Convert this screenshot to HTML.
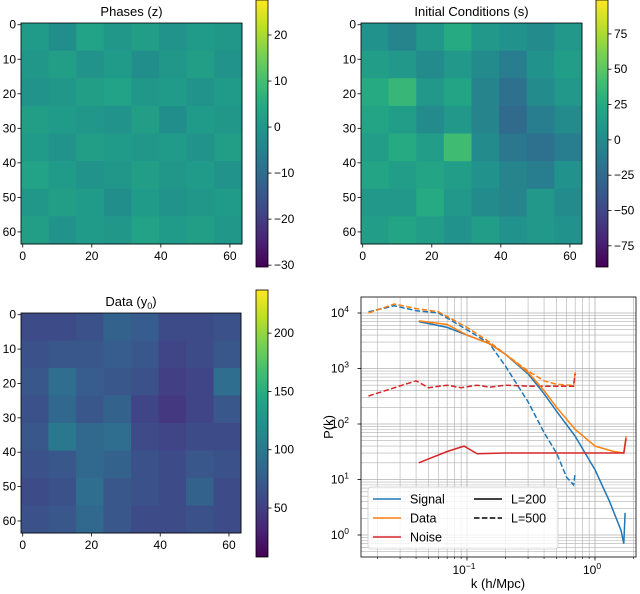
<!DOCTYPE html>
<html><head><meta charset="utf-8"><style>
body{margin:0;background:#fff;}
svg{display:block;font-family:"Liberation Sans","DejaVu Sans",sans-serif;}
</style></head><body>
<svg id="fig" width="640" height="594" viewBox="0 0 640 594" xmlns="http://www.w3.org/2000/svg">
<defs>
<linearGradient id="vir" x1="0" y1="1" x2="0" y2="0">
<stop offset="0" stop-color="#440154"/><stop offset="0.1" stop-color="#482475"/><stop offset="0.2" stop-color="#414487"/><stop offset="0.3" stop-color="#355f8d"/><stop offset="0.4" stop-color="#2a788e"/><stop offset="0.5" stop-color="#21918c"/><stop offset="0.6" stop-color="#22a884"/><stop offset="0.7" stop-color="#44bf70"/><stop offset="0.8" stop-color="#7ad151"/><stop offset="0.9" stop-color="#bddf26"/><stop offset="1" stop-color="#fde725"/>
</linearGradient>
<clipPath id="pclip"><rect x="361" y="297" width="275" height="260"/></clipPath>
</defs>
</svg>
<script>
const phasesGrid=[
[1,-2,3,0,2,-1,1,0],[0,2,-1,1,-2,0,2,-1],[-1,0,2,3,0,1,-1,1],[2,1,0,-1,2,-2,1,0],
[1,-1,2,1,0,1,-1,2],[3,1,-1,0,2,0,1,-1],[0,2,1,-2,1,-1,0,1],[2,-1,1,0,3,1,2,0]];
const initGrid=[
[5,-5,10,25,10,5,0,10],[15,10,0,10,0,-10,5,15],[25,35,10,20,-5,-20,0,10],[20,15,0,10,-5,-25,-10,0],
[15,25,15,40,0,-15,-20,-10],[20,15,20,15,5,-5,-10,5],[10,10,25,10,0,-5,10,0],[15,20,15,5,15,5,10,5]];
const dataGrid=[
[60,60,65,80,75,60,60,65],[65,70,70,75,70,55,60,70],[70,90,75,70,65,50,55,90],[65,85,70,80,55,45,55,70],
[70,100,85,90,60,55,60,60],[65,70,85,80,65,60,70,65],[60,65,90,70,65,60,80,60],[65,70,85,70,60,60,65,60]];
const heatTicks=[0,20,40,60];
const cbTicks1=[20,10,0,-10,-20,-30];
const cbTicks2=[75,50,25,0,-25,-50,-75];
const cbTicks3=[200,150,100,50];
const kSig500=[0.017,0.027,0.04,0.06,0.1,0.15,0.2,0.3,0.4,0.5,0.6,0.68,0.7];
const pSig500=[1.05e4,1.35e4,1.1e4,1.0e4,5e3,2.8e3,1.1e3,2.5e2,7e1,3e1,1.1e1,8,13];
const kDat500=[0.017,0.027,0.04,0.06,0.1,0.15,0.2,0.3,0.4,0.5,0.65,0.68,0.7];
const pDat500=[1.0e4,1.45e4,1.2e4,1.05e4,5.5e3,3e3,1.8e3,9e2,6e2,5.2e2,5e2,5e2,8.5e2];
const kNoi500=[0.017,0.04,0.05,0.07,0.09,0.12,0.15,0.2,0.3,0.5,0.68,0.7];
const pNoi500=[3.2e2,6e2,4.5e2,5e2,4.5e2,5e2,4.6e2,5e2,4.8e2,4.8e2,4.8e2,8e2];
const kSig200=[0.042,0.07,0.1,0.15,0.2,0.3,0.4,0.5,0.7,1.0,1.3,1.6,1.68,1.72];
const pSig200=[7e3,5.5e3,4e3,2.8e3,1.8e3,8e2,3.5e2,1.7e2,6e1,1.5e1,4,1.2,0.7,2.5];
const kDat200=[0.042,0.07,0.1,0.15,0.2,0.3,0.4,0.5,0.7,1.0,1.4,1.68,1.75];
const pDat200=[7.2e3,6.2e3,4e3,2.8e3,1.8e3,8.5e2,4e2,2e2,8e1,4e1,3.2e1,3e1,6e1];
const kNoi200=[0.042,0.07,0.095,0.12,0.2,0.5,1.0,1.68,1.75];
const pNoi200=[2e1,3.2e1,4e1,2.9e1,3e1,3e1,3e1,3e1,5.5e1];

const NS="http://www.w3.org/2000/svg";
const svg=document.getElementById('fig');
function el(tag,attrs,parent){const e=document.createElementNS(NS,tag);for(const k in attrs)e.setAttribute(k,attrs[k]);(parent||svg).appendChild(e);return e;}
const VIR=["#440154","#482475","#414487","#355f8d","#2a788e","#21918c","#22a884","#44bf70","#7ad151","#bddf26","#fde725"];
function hex(h){return [1,3,5].map(i=>parseInt(h.substr(i,2),16));}
function viridis(t){t=Math.max(0,Math.min(1,t));const f=t*10,i=Math.min(9,Math.floor(f)),r=f-i;const a=hex(VIR[i]),b=hex(VIR[i+1]);return `rgb(${a.map((v,j)=>Math.round(v+(b[j]-v)*r)).join(',')})`;}
function txt(x,y,s,anchor,size,parent){const t=el('text',{x:x,y:y,'text-anchor':anchor||'middle','font-size':size||12,fill:'#000'},parent);t.textContent=s;return t;}

function heatmap(name,grid,px,py,sz,vmin,vmax,title,cbx,cby0,cby1,ticks,titleSub){
  const g=el('g',{});
  
  
  const n=grid.length,c=sz/n;
  const sx=v=>px+v/64*sz, sy=v=>py+v/64*sz;
  grid.forEach((row,i)=>row.forEach((v,j)=>{
    const r=el('rect',{x:sx(j*64/n),y:sy(i*64/n),width:c+0.5,height:c+0.5,fill:viridis((v-vmin)/(vmax-vmin))},g);
    
    
  }));
  el('rect',{x:px,y:py,width:sz,height:sz,fill:'none',stroke:'#000','stroke-width':0.8},g);
  heatTicks.forEach(t=>{
    const x=sx(t+0.5),y=sy(t+0.5);
    el('line',{x1:x,x2:x,y1:py+sz,y2:py+sz+3.5,stroke:'#000','stroke-width':0.8},g);
    txt(x,py+sz+16,String(t),'middle',12,g);
    el('line',{x1:px-3.5,x2:px,y1:y,y2:y,stroke:'#000','stroke-width':0.8},g);
    txt(px-5,y+4,String(t),'end',12,g);
  });
  [10,30,50].forEach(t=>{const y=sy(t+0.5);el('line',{x1:px-3.5,x2:px,y1:y,y2:y,stroke:'#000','stroke-width':0.8},g);txt(px-5,y+4,String(t),'end',12,g);});
  const tt=txt(px+sz/2,py-7,title,'middle',13,g);
  
  
  if(titleSub){const ts=el('tspan',{'font-size':9,dy:3},tt);ts.textContent=titleSub;const t2=el('tspan',{dy:-3},tt);t2.textContent=')';}
  const cb=el('g',{});
  
  
  el('rect',{x:cbx,y:cby0,width:12,height:cby1-cby0,fill:'url(#vir)',stroke:'#000','stroke-width':0.8},cb);
  const cy=v=>cby1-(v-vmin)/(vmax-vmin)*(cby1-cby0);
  ticks.forEach(t=>{const y=cy(t);el('line',{x1:cbx+12,x2:cbx+15.5,y1:y,y2:y,stroke:'#000','stroke-width':0.8},cb);txt(cbx+18,y+4,String(t).replace('-','\u2212'),'start',12,cb);});
}
heatmap('phases-heatmap',phasesGrid,21,23,221,-30.4,27.6,'Phases (z)',256,0,267,cbTicks1);
heatmap('initial-conditions-heatmap',initGrid,361,23,221,-90,99,'Initial Conditions (s)',596,0,267,cbTicks2);
heatmap('data-heatmap',dataGrid,21,313,220,8,237,'Data (y',256,290,557,cbTicks3,'0');

const AX={l:361,r:636,t:297,b:557};
const xs=k=>467+128*(Math.log10(k)+1);
const ys=p=>535-55.5*Math.log10(p);
const ax=el('g',{});


const grid=el('g',{'clip-path':'url(#pclip)'},ax);


for(let e=-2;e<=0;e++)for(let m=1;m<10;m++){const x=xs(m*Math.pow(10,e));if(x>=AX.l&&x<=AX.r)el('line',{x1:x,x2:x,y1:AX.t,y2:AX.b,stroke:'#b0b0b0','stroke-width':m===1?0.8:0.6},grid);}
for(let e=-1;e<=4;e++)for(let m=1;m<10;m++){const y=ys(m*Math.pow(10,e));if(y>=AX.t&&y<=AX.b)el('line',{x1:AX.l,x2:AX.r,y1:y,y2:y,stroke:'#b0b0b0','stroke-width':m===1?0.8:0.6},grid);}
const series=[
 ['signal-l500',kSig500,pSig500,'#1f77b4',true],['data-l500',kDat500,pDat500,'#ff7f0e',true],['noise-l500',kNoi500,pNoi500,'#d62728',true],
 ['signal-l200',kSig200,pSig200,'#1f77b4',false],['data-l200',kDat200,pDat200,'#ff7f0e',false],['noise-l200',kNoi200,pNoi200,'#d62728',false]];
series.forEach(([nm,k,p,c,d])=>{
  const pth=el('path',{d:k.map((v,i)=>(i?'L':'M')+xs(v).toFixed(1)+','+ys(p[i]).toFixed(1)).join(''),fill:'none',stroke:c,'stroke-width':1.5,'stroke-dasharray':d?'5.5,2.4':'none','clip-path':'url(#pclip)'},ax);
  
  
});
el('rect',{x:AX.l,y:AX.t,width:AX.r-AX.l,height:AX.b-AX.t,fill:'none',stroke:'#000','stroke-width':0.8},ax);
const xt=[[0.1,'-1'],[1,'0']];
xt.forEach(([k,e])=>{const x=xs(k);el('line',{x1:x,x2:x,y1:AX.b,y2:AX.b+3.5,stroke:'#000','stroke-width':0.8},ax);const t=txt(x-3,AX.b+17,'10','middle',12,ax);const s=el('tspan',{'font-size':8.5,dy:-5},t);s.textContent=e.replace('-','\u2212');});
for(let e=-2;e<=0;e++)for(let m=2;m<10;m++){const x=xs(m*Math.pow(10,e));if(x>=AX.l&&x<=AX.r)el('line',{x1:x,x2:x,y1:AX.b,y2:AX.b+2,stroke:'#000','stroke-width':0.6},ax);}
[0,1,2,3,4].forEach(e=>{const y=ys(Math.pow(10,e));el('line',{x1:AX.l-3.5,x2:AX.l,y1:y,y2:y,stroke:'#000','stroke-width':0.8},ax);const t=txt(AX.l-12,y+4,'10','end',12,ax);const s=el('tspan',{'font-size':8.5,dy:-5},t);s.textContent=String(e);});
const xl=txt(498,588,'k (h/Mpc)','middle',13,ax);


const yl=txt(0,0,'P(k)','middle',13,ax);yl.setAttribute('transform','translate(333,427) rotate(-90)');


const lg=el('g',{},ax);


el('rect',{x:368,y:487,width:190,height:62,rx:3,fill:'#fff','fill-opacity':0.8,stroke:'#ccc','stroke-width':0.8},lg);
[['Signal','#1f77b4'],['Data','#ff7f0e'],['Noise','#d62728']].forEach(([n,c],i)=>{const y=499+i*19;el('line',{x1:373,x2:401,y1:y,y2:y,stroke:c,'stroke-width':1.5},lg);const t=txt(410,y+4.5,n,'start',12.5,lg);});
[['L=200','none'],['L=500','5.5,2.4']].forEach(([n,d],i)=>{const y=499+i*19;el('line',{x1:474,x2:502,y1:y,y2:y,stroke:'#000','stroke-width':1.5,'stroke-dasharray':d},lg);const t=txt(511,y+4.5,n,'start',12.5,lg);});
</script>
</body></html>
